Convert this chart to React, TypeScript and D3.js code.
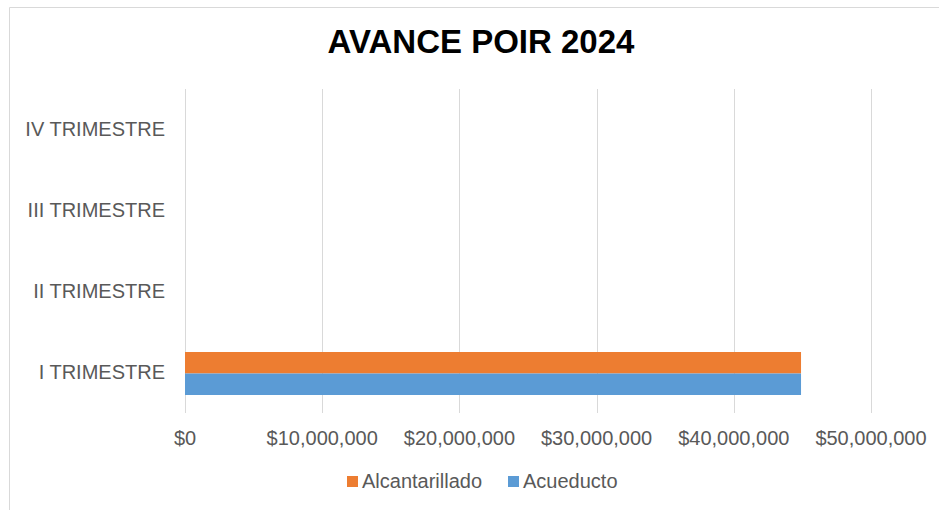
import React, { useRef, useEffect } from "react";
import * as d3 from "d3";

const categories = ["I TRIMESTRE", "II TRIMESTRE", "III TRIMESTRE", "IV TRIMESTRE"];
const acueducto = [44900000, 0, 0, 0];
const alcantarillado = [44900000, 0, 0, 0];
const xTicks = [0, 10000000, 20000000, 30000000, 40000000, 50000000];
const seriesNames = ["Alcantarillado", "Acueducto"];
const seriesColors = ["#ED7D31", "#5B9BD5"];

const App = () => {
  const svgRef = useRef<SVGSVGElement>(null);

  useEffect(() => {
    const svg = d3.select(svgRef.current);
    svg.selectAll("*").remove();

    const font = "Liberation Sans, Arial, sans-serif";
    const left = 185, right = 871, top = 89, bottom = 413;

    // chart frame
    svg.append("path")
      .attr("d", "M9.5,510 V7.5 H939")
      .attr("fill", "none")
      .attr("stroke", "#d9d9d9");

    svg.append("text")
      .attr("x", 481).attr("y", 53)
      .attr("text-anchor", "middle")
      .style("font-family", font)
      .style("font-size", "33px")
      .style("font-weight", "bold")
      .attr("fill", "#000")
      .text("AVANCE POIR 2024");

    const x = d3.scaleLinear().domain([0, 50000000]).range([left, right]);
    const y = d3.scaleBand().domain(categories.slice().reverse()).range([top, bottom]);

    // gridlines
    svg.append("g")
      .selectAll("line")
      .data(xTicks)
      .enter()
      .append("line")
      .attr("x1", (d) => Math.round(x(d)) + 0.5)
      .attr("x2", (d) => Math.round(x(d)) + 0.5)
      .attr("y1", top)
      .attr("y2", bottom)
      .attr("stroke", "#d9d9d9");

    // x tick labels
    svg.append("g")
      .selectAll("text")
      .data(xTicks)
      .enter()
      .append("text")
      .attr("x", (d) => x(d))
      .attr("y", 445)
      .attr("text-anchor", "middle")
      .style("font-family", font)
      .style("font-size", "20px")
      .attr("fill", "#595959")
      .text((d) => d3.format("$,")(d));

    // y labels
    svg.append("g")
      .selectAll("text")
      .data(categories)
      .enter()
      .append("text")
      .attr("x", 165)
      .attr("y", (d) => y(d)! + y.bandwidth() / 2 + 6)
      .attr("text-anchor", "end")
      .style("font-family", font)
      .style("font-size", "20px")
      .attr("fill", "#595959")
      .text((d) => d);

    // bars: Alcantarillado above, Acueducto below
    const barH = 21.5;
    const mid = (d: string) => y(d)! + y.bandwidth() / 2 + 1;
    svg.append("g")
      .selectAll("rect")
      .data(categories.map((c, i) => ({ c, v: alcantarillado[i] })))
      .enter()
      .append("rect")
      .attr("x", x(0))
      .attr("y", (d) => mid(d.c) - barH)
      .attr("width", (d) => x(d.v) - x(0))
      .attr("height", barH)
      .attr("fill", seriesColors[0]);
    svg.append("g")
      .selectAll("rect")
      .data(categories.map((c, i) => ({ c, v: acueducto[i] })))
      .enter()
      .append("rect")
      .attr("x", x(0))
      .attr("y", (d) => mid(d.c))
      .attr("width", (d) => x(d.v) - x(0))
      .attr("height", barH)
      .attr("fill", seriesColors[1]);

    // legend
    const legendX = [347, 508];
    seriesNames.forEach((name, i) => {
      svg.append("rect")
        .attr("x", legendX[i]).attr("y", 476)
        .attr("width", 11).attr("height", 11)
        .attr("fill", seriesColors[i]);
      svg.append("text")
        .attr("x", legendX[i] + 15).attr("y", 488)
        .style("font-family", font)
        .style("font-size", "20px")
        .attr("fill", "#595959")
        .text(name);
    });
  }, []);

  return (
    <svg
      ref={svgRef}
      width={939}
      height={510}
      style={{ position: "absolute", left: 0, top: 0, background: "#fff" }}
    ></svg>
  );
};

export default App;
